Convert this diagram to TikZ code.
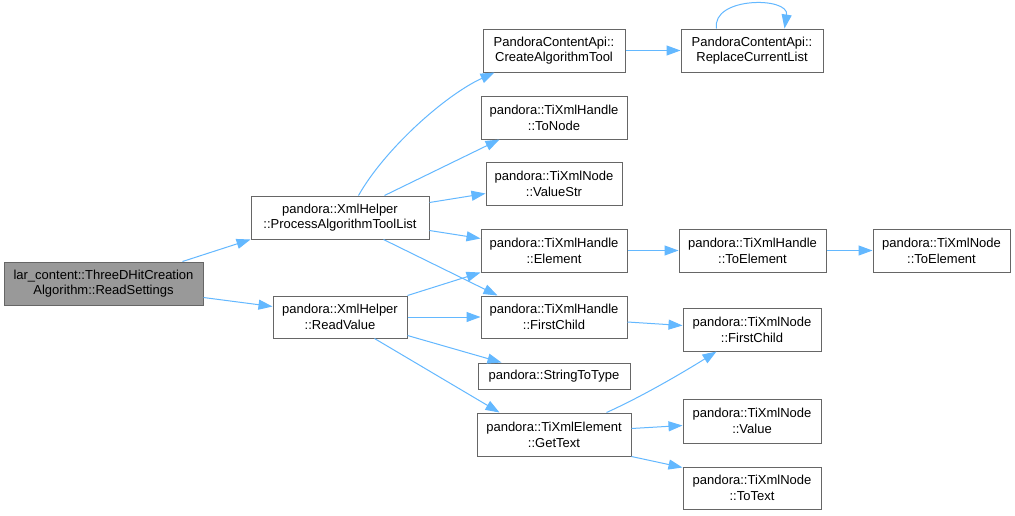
\documentclass[tikz,border=0pt]{standalone}
\usepackage{fontspec}
\setmainfont{Liberation Sans}
\usetikzlibrary{arrows.meta,calc}
\definecolor{edgeblue}{RGB}{99,184,255}
\definecolor{boxborder}{RGB}{102,102,102}
\definecolor{mainfill}{RGB}{153,153,153}
\begin{document}
\begin{tikzpicture}[x=1pt,y=-1pt,
  fn/.style={draw=boxborder, line width=1pt, fill=white, inner sep=0pt, align=center,
    font=\fontsize{13}{15.7}\selectfont, text=black},
  mainfn/.style={fn, fill=mainfill},
  call/.style={draw=edgeblue, line width=1pt, -{Triangle[length=14pt,width=10pt]}, color=edgeblue}
]
\useasboundingbox (0,0) rectangle (1015,515);
\fill[white] (0,0) rectangle (1015,515);
\node[mainfn, minimum width=199pt, minimum height=43pt] (rs) at (103.5,283.5) {lar\_content::ThreeDHitCreation\\Algorithm::ReadSettings};
\node[fn, minimum width=178pt, minimum height=43pt] (patl) at (340,217.5) {pandora::XmlHelper\\::ProcessAlgorithmToolList};
\node[fn, minimum width=134pt, minimum height=42pt] (rv) at (340,317) {pandora::XmlHelper\\::ReadValue};
\node[fn, minimum width=142pt, minimum height=43pt] (cat) at (554,50.5) {PandoraContentApi::\\CreateAlgorithmTool};
\node[fn, minimum width=142pt, minimum height=43pt] (rcl) at (752,50.5) {PandoraContentApi::\\ReplaceCurrentList};
\node[fn, minimum width=146pt, minimum height=43pt] (tonode) at (554,117.5) {pandora::TiXmlHandle\\::ToNode};
\node[fn, minimum width=136pt, minimum height=43pt] (vstr) at (554,183.5) {pandora::TiXmlNode\\::ValueStr};
\node[fn, minimum width=146pt, minimum height=43pt] (elem) at (554,250.5) {pandora::TiXmlHandle\\::Element};
\node[fn, minimum width=147pt, minimum height=43pt] (hte) at (752.5,250.5) {pandora::TiXmlHandle\\::ToElement};
\node[fn, minimum width=137pt, minimum height=43pt] (nte) at (941.5,250.5) {pandora::TiXmlNode\\::ToElement};
\node[fn, minimum width=146pt, minimum height=42pt] (hfc) at (554,317) {pandora::TiXmlHandle\\::FirstChild};
\node[fn, minimum width=138pt, minimum height=43pt] (nfc) at (752,329.5) {pandora::TiXmlNode\\::FirstChild};
\node[fn, minimum width=152pt, minimum height=26pt] (stt) at (554,376) {pandora::StringToType};
\node[fn, minimum width=154pt, minimum height=43pt] (gt) at (554,434.5) {pandora::TiXmlElement\\::GetText};
\node[fn, minimum width=138pt, minimum height=44pt] (val) at (752,421) {pandora::TiXmlNode\\::Value};
\node[fn, minimum width=138pt, minimum height=42pt] (tt) at (752,488) {pandora::TiXmlNode\\::ToText};

\draw[call] ($(rs.north west)+(179,0)$) -- (patl.south west);
\draw[call] ($(rs.north east)+(0,36)$) -- ($(rv.north west)+(0,11)$);
\draw[call] ($(patl.north west)+(108,0)$) .. controls +(26,-46) and +(-50,23) .. ($(cat.south west)+(12,0)$);
\draw[call] ($(patl.north west)+(134,0)$) -- ($(tonode.south west)+(19,0)$);
\draw[call] ($(patl.north east)+(0,7)$) -- ($(vstr.north west)+(0,32)$);
\draw[call] ($(patl.north east)+(0,35)$) -- ($(elem.north west)+(0,10)$);
\draw[call] ($(patl.south west)+(133,0)$) -- ($(hfc.north west)+(17,0)$);
\draw[call] (rv.north east) -- (elem.south west);
\draw[call] (rv.east) -- (hfc.west);
\draw[call] ($(rv.south east)+(0,-3)$) -- ($(stt.north west)+(24,0)$);
\draw[call] ($(rv.south west)+(102,0)$) -- ($(gt.north west)+(23,0)$);
\draw[call] (elem.east) -- (hte.west);
\draw[call] (hte.east) -- (nte.west);
\draw[call] ($(hfc.east)+(0,5)$) -- ($(nfc.west)+(0,-4)$);
\draw[call] (cat.east) -- (rcl.west);
\draw[call] ($(rcl.north west)+(36,0)$) .. controls +(-5,-32) and +(5,-32) .. ($(rcl.north west)+(104,0)$);
\draw[call] ($(gt.north west)+(130,0)$) .. controls +(38,-17) and +(-27,17) .. ($(nfc.south west)+(34,0)$);
\draw[call] ($(gt.north east)+(0,16)$) -- ($(val.north west)+(0,27)$);
\draw[call] (gt.south east) -- ($(tt.north west)+(0,1)$);
\end{tikzpicture}
\end{document}
